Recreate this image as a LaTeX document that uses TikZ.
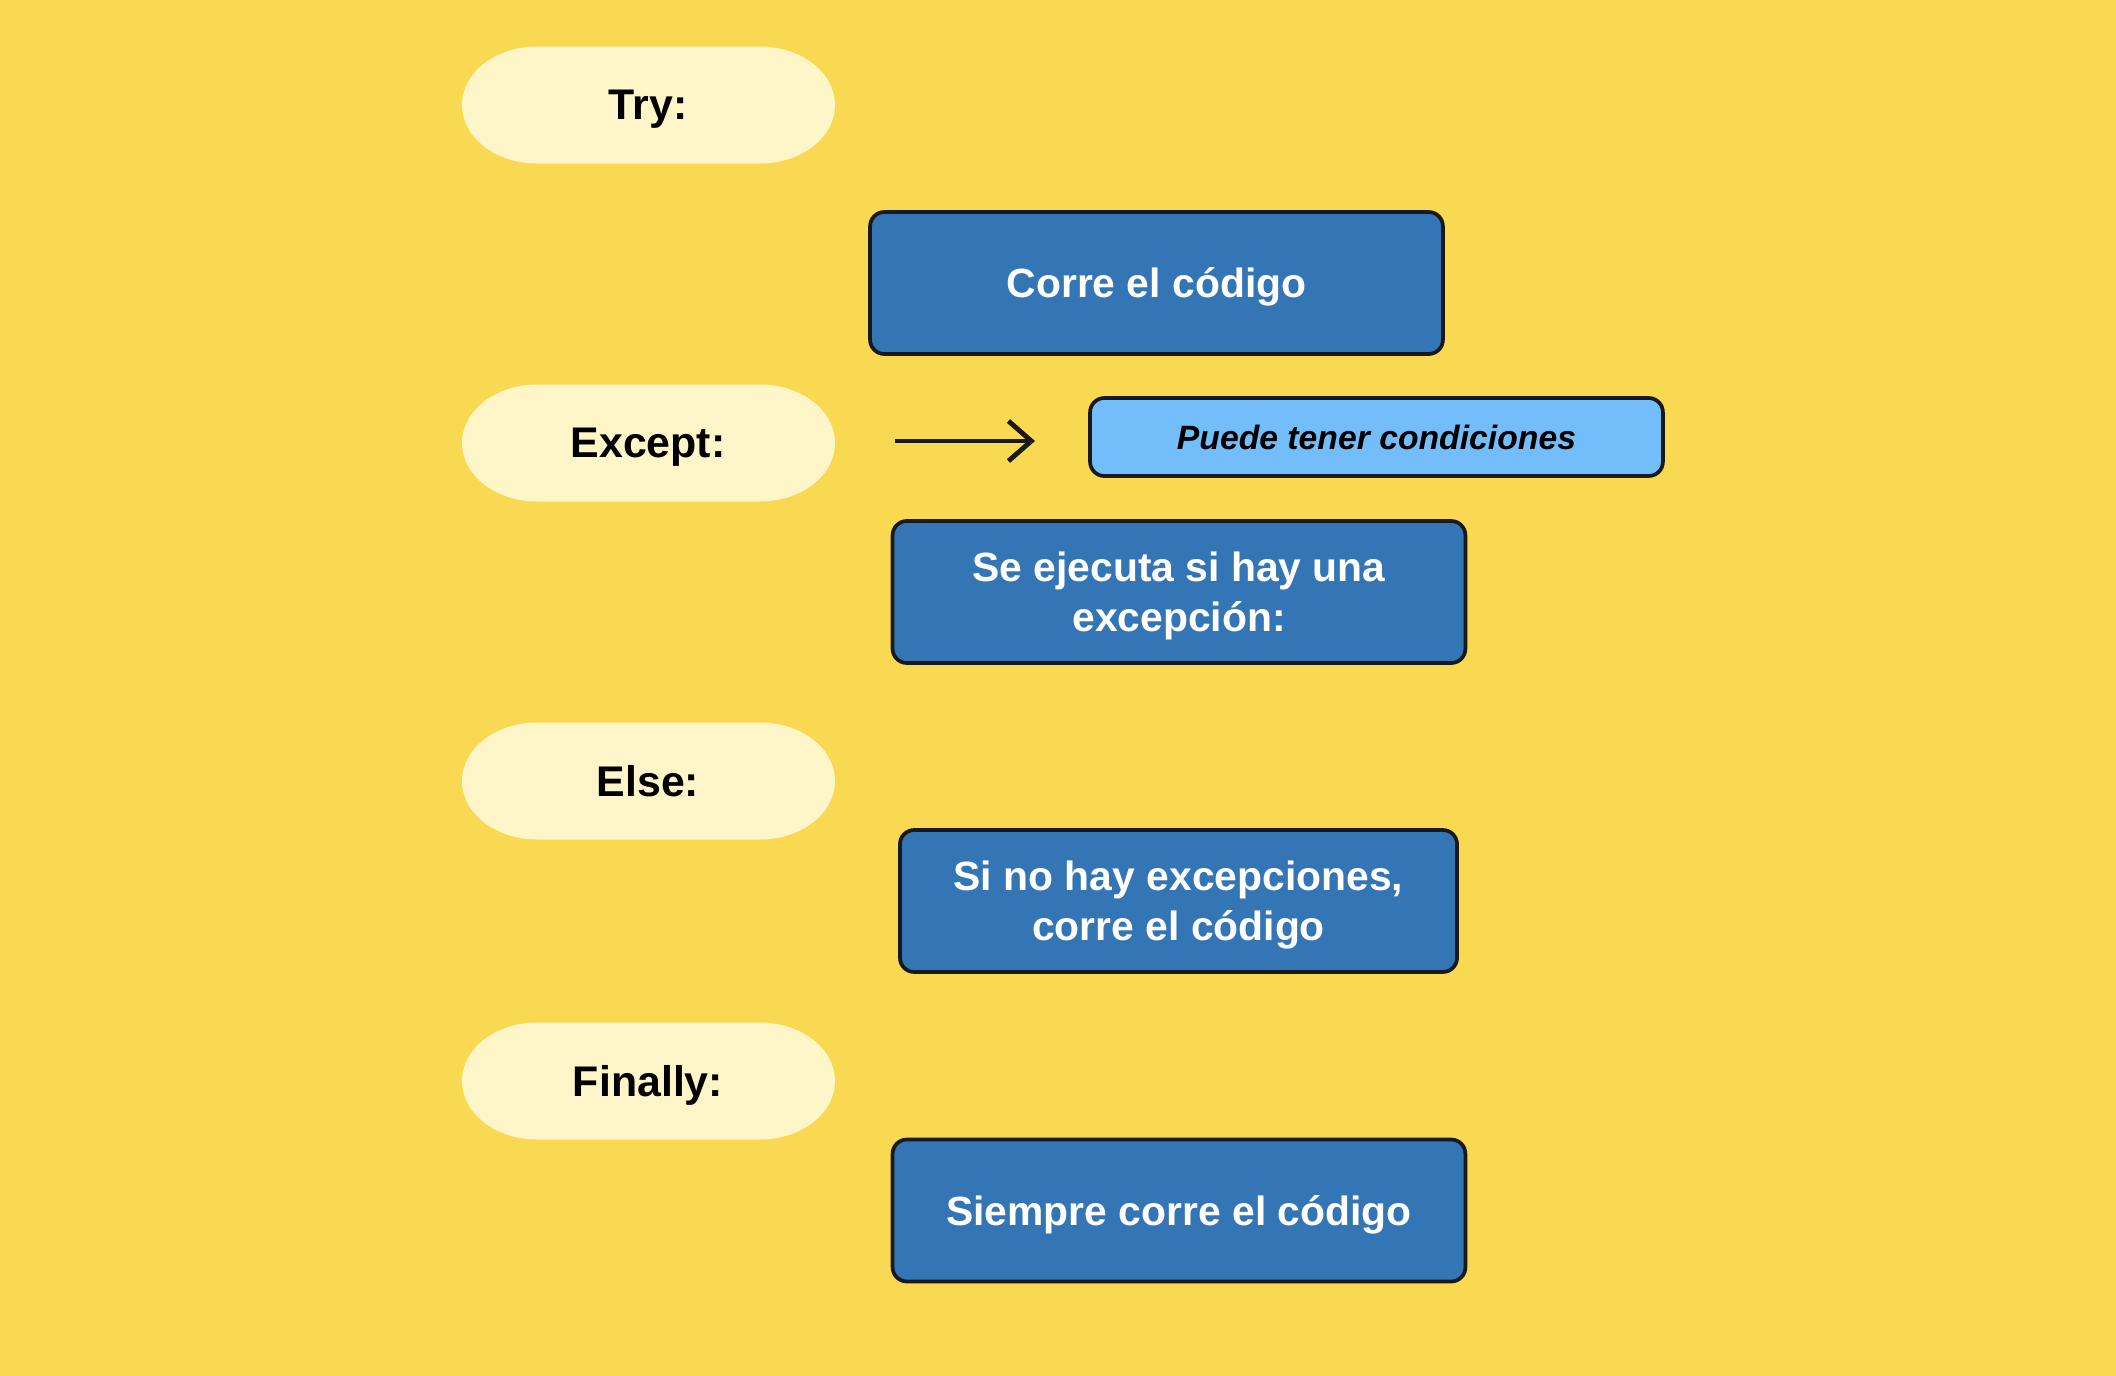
\documentclass[tikz,border=0pt]{standalone}
\usepackage{fontspec}
\setmainfont{Liberation Sans}
\usetikzlibrary{arrows.meta}
\definecolor{bgyel}{HTML}{F9D952}
\definecolor{pillc}{HTML}{FEF6C8}
\definecolor{boxblue}{HTML}{3475B5}
\definecolor{lightblue}{HTML}{73BEFA}
\tikzset{
  pill/.style={minimum width=130.6pt, minimum height=41pt, inner sep=0pt, text depth=0pt,
    font=\fontsize{15}{18}\selectfont\bfseries, text=black},
  bluebox/.style={fill=boxblue, draw=black!90, line width=1.3pt, rounded corners=5pt, inner sep=0pt,
    minimum width=200.5pt, minimum height=49.7pt, align=center, text=white, text depth=0pt,
    font=\fontsize{14.3}{17.6}\selectfont\bfseries},
  notebox/.style={fill=lightblue, draw=black!90, line width=1.3pt, rounded corners=5pt, inner sep=0pt,
    minimum width=200.5pt, minimum height=27.3pt, text=black, text depth=0pt,
    font=\fontsize{11.8}{14}\selectfont\bfseries\itshape},
  sketcharrow/.style={line width=1.7pt, black!90, -{Straight Barb[length=8pt,width=14pt,line width=1.7pt]}},
}
\begin{document}
\begin{tikzpicture}[x=0.35pt,y=-0.35pt]
\fill[bgyel] (0,0) rectangle (2116,1376);
\useasboundingbox (0,0) rectangle (2116,1376);
\foreach \cy in {105,443,781,1081}{
  \fill[pillc] (537,\cy-58.5) -- (760,\cy-58.5) arc[start angle=90,end angle=-90,x radius=26.25pt,y radius=20.475pt]
    -- (537,\cy+58.5) arc[start angle=270,end angle=90,x radius=26.25pt,y radius=20.475pt] -- cycle;
}
\node[pill] (try) at (648,105) {Try:};
\node[pill] (except) at (648,443) {Except:};
\node[pill] (else) at (648,781) {Else:};
\node[pill] (finally) at (648,1081) {Finally:};
\node[bluebox] (corre) at (1156.5,283) {Corre el código};
\node[notebox] (puede) at (1376.5,437) {Puede tener condiciones};
\node[bluebox] (seej) at (1179,592) {Se ejecuta si hay una\\excepción:};
\node[bluebox, minimum width=195pt] (sino) at (1178.5,901) {Si no hay excepciones,\\corre el código};
\node[bluebox] (siempre) at (1179,1210.5) {Siempre corre el código};
\coordinate (a1) at (895,441);
\coordinate (a2) at (1035,441);
\draw[sketcharrow] (a1) -- (a2);
\end{tikzpicture}
\end{document}
